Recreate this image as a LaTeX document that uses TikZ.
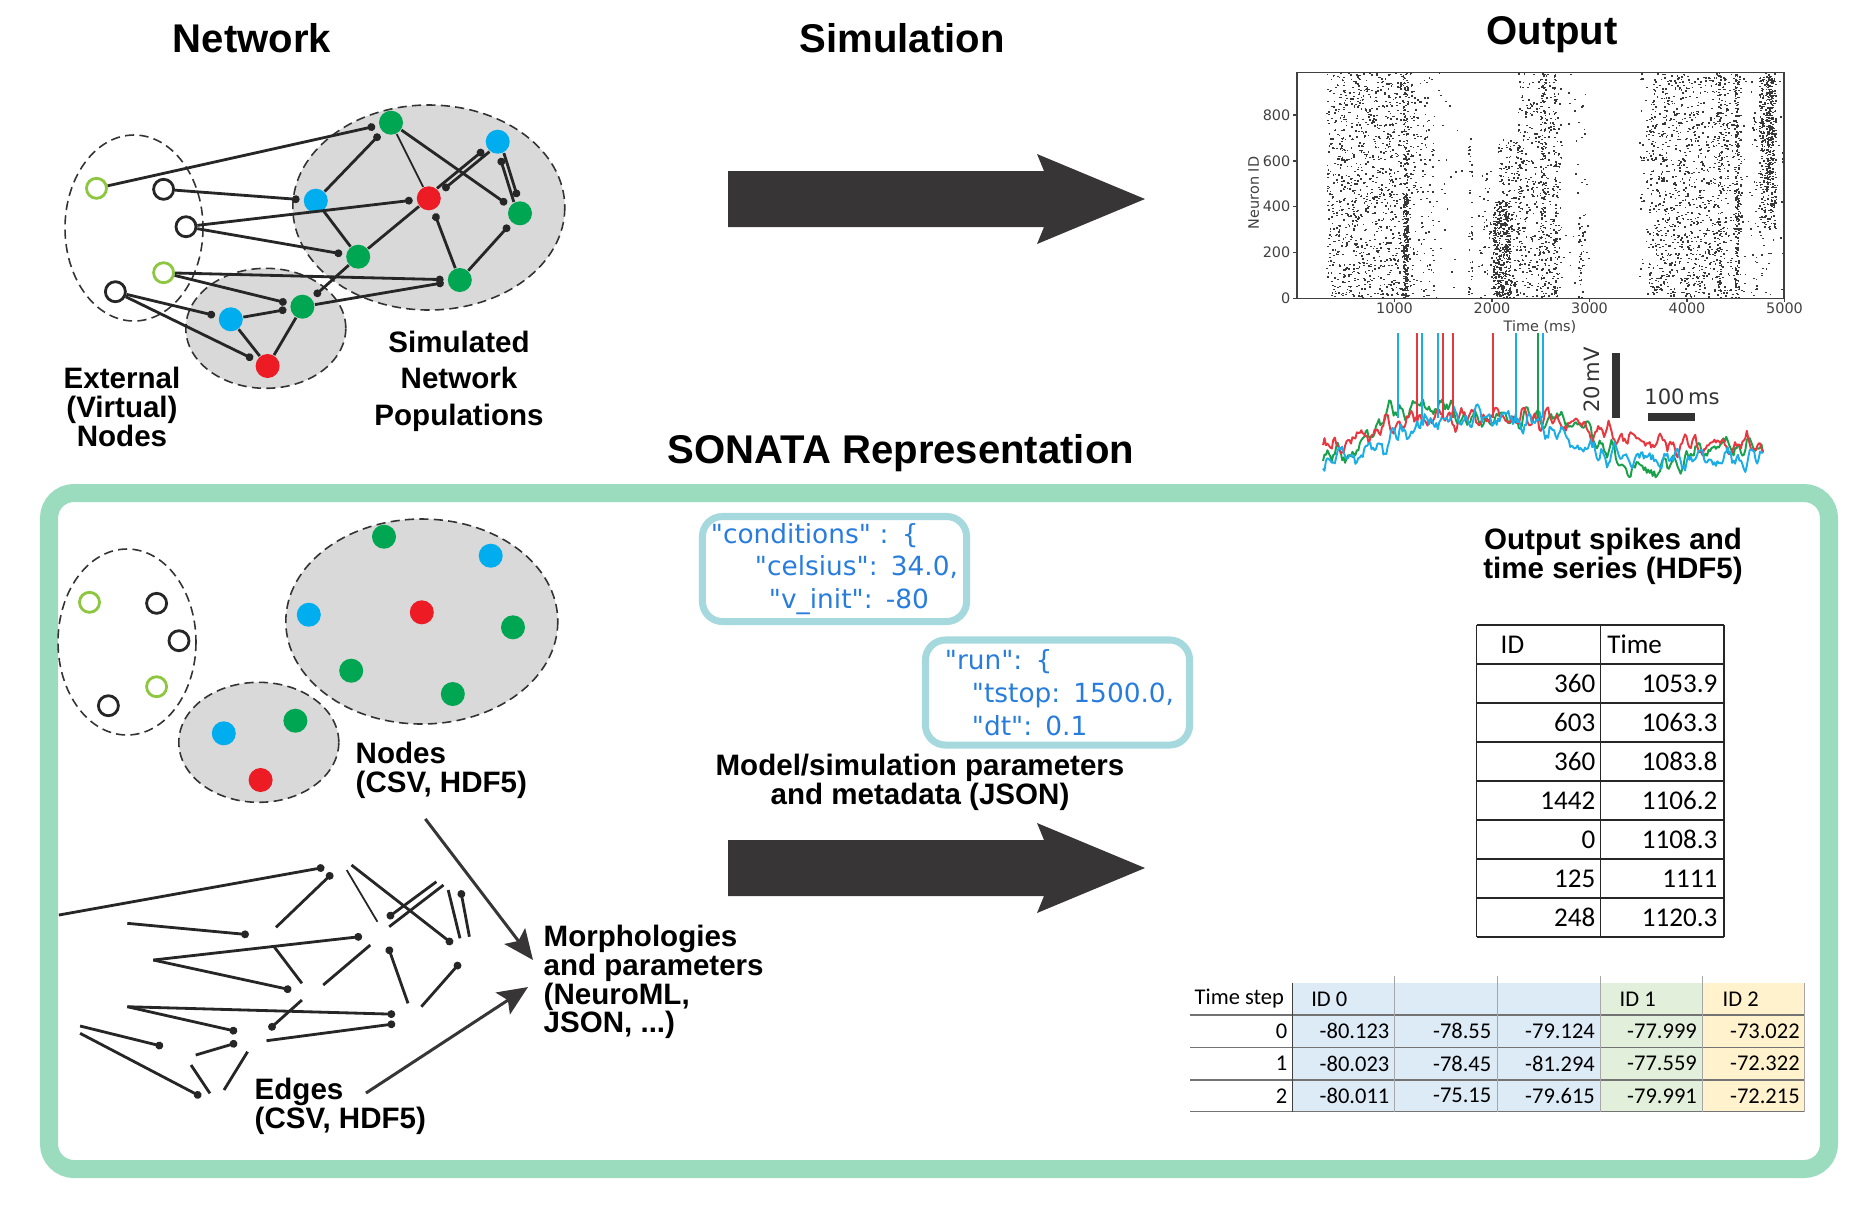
\documentclass[tikz,border=0pt]{standalone}
\usepackage{fontspec}
\setmainfont{Liberation Sans}
\newfontfamily\jsonfont{DejaVu Sans}
\newfontfamily\plotfont{DejaVu Sans}
\newfontfamily\cellfont{Carlito}
\usepackage{xcolor}
\usepackage{tikz}
\usetikzlibrary{positioning,arrows,arrows.meta}

\definecolor{popgreen}{RGB}{0,166,81}
\definecolor{popblue}{RGB}{0,174,239}
\definecolor{popred}{RGB}{237,28,36}
\definecolor{virtgreen}{RGB}{141,198,63}
\definecolor{popgrey}{RGB}{217,217,217}
\definecolor{boxgreen}{RGB}{155,220,191}
\definecolor{jsonframe}{RGB}{165,217,222}
\definecolor{jsontext}{RGB}{40,125,220}
\definecolor{arrowgrey}{RGB}{56,53,54}
\definecolor{cellblue}{RGB}{221,235,247}
\definecolor{cellgreen}{RGB}{226,239,218}
\definecolor{cellyellow}{RGB}{255,242,204}
\definecolor{trred}{RGB}{231,56,63}
\definecolor{trgreen}{RGB}{25,160,75}
\definecolor{trblue}{RGB}{27,174,230}

\newcommand\titlefont{\fontsize{11.4}{13}\selectfont\bfseries}
\newcommand\lblfont{\fontsize{8.4}{8.2}\selectfont\bfseries}

% populations, drawn on top and again inside the SONATA box
\newcommand\populations{%
  \draw[popedge] (428.8,207.5) ellipse (136 and 102.5);
  \draw[popedge] (265.8,328.3) ellipse (80 and 60);
  \draw[virtedge] (134,228) ellipse (69 and 93);
  \node[virt,draw=virtgreen] (E1) at (96.5,188.3) {};
  \node[virt] (E2) at (163.6,189.3) {};
  \node[virt] (E3) at (186,226.7) {};
  \node[virt,draw=virtgreen] (E4) at (163.6,272.7) {};
  \node[virt] (E5) at (115.4,291.7) {};
  \node[pop,fill=popgreen] (G1) at (391,122.7) {};
  \node[pop,fill=popblue] (B1) at (497.7,141.7) {};
  \node[pop,fill=popblue] (B2) at (315.8,200.7) {};
  \node[pop,fill=popred] (R1) at (428.8,198.3) {};
  \node[pop,fill=popgreen] (G2) at (520,213.3) {};
  \node[pop,fill=popgreen] (G3) at (358.2,256.7) {};
  \node[pop,fill=popgreen] (G4) at (459.8,280) {};
  \node[pop,fill=popgreen] (G5) at (302.4,306.7) {};
  \node[pop,fill=popblue] (B3) at (230.8,319.3) {};
  \node[pop,fill=popred] (R2) at (267.6,366) {};
}

% random spikes: t0 t1 id0 id1 count
\newcommand\band[5]{%
  \foreach \k in {1,...,#5}
    \fill[black!78] ({#1+rnd*(#2-#1)},{#3+rnd*(#4-#3)}) rectangle ++(18,6);}

\begin{document}
\begin{tikzpicture}[x=0.01cm,y=-0.01cm,
    declare function={bump(\x,\a,\b,\w)=1/(1+exp(max(-9,min(9,(\a-\x)/\w))))-1/(1+exp(max(-9,min(9,(\b-\x)/\w))));
      jit(\x,\p)=3.5*rand+5*sin(13*(\x-1320)+\p)+4*sin(29*(\x-1320)+\p)+3*sin(34*(\x-1320)+\p);},
    pop/.style={circle,inner sep=0,minimum size=0.24cm},
    virt/.style={circle,inner sep=0,minimum size=0.2cm,draw=black!85,line width=0.8pt,fill=white},
    popedge/.style={draw=black!80,fill=popgrey,dash pattern=on 2.6pt off 1.5pt,line width=0.45pt},
    virtedge/.style={draw=black!80,dash pattern=on 2.6pt off 1.5pt,line width=0.45pt},
    syn/.style={draw=black!85,line width=0.8pt,-{Circle[length=2.2pt]},shorten >=1pt},
    wire/.style={draw=black!85,line width=0.8pt},
    title/.style={font=\titlefont,inner sep=0,anchor=base},
    lbl/.style={font=\lblfont,align=center,inner sep=0},
    sonata/.style={draw=boxgreen,line width=0.18cm,rounded corners=0.25cm},
    bigarr/.style={draw=arrowgrey,line width=0.85pt,-{Stealth[length=0.3cm,width=0.26cm,inset=0.06cm]}},
    json/.style={draw=jsonframe,line width=2pt,rounded corners=0.2cm,text=jsontext,
      font=\jsonfont\fontsize{7.5}{9.3}\selectfont,align=left,inner xsep=0.085cm,inner ysep=0,
      minimum height=1.05cm,text width=2.47cm},
    axis/.style={draw=black!75,line width=0.4pt},
    tick/.style={font=\plotfont\fontsize{4.1}{5}\selectfont,text=black!75,inner sep=0},
    trace/.style={line width=0.55pt,line join=round},
    scalebar/.style={draw=black!80,line width=2.3pt},
    barlbl/.style={font=\plotfont\fontsize{6}{7}\selectfont,text=black!80,inner sep=0},
    cell/.style={font=\cellfont\fontsize{7.7}{9}\selectfont,inner sep=0},
    vcell/.style={font=\cellfont\fontsize{6.4}{8}\selectfont,inner sep=0},
    grid/.style={draw=black!85,line width=0.35pt}]
  \useasboundingbox (0,0) rectangle (1873,1211);

  % headings
  \node[title] (NetT) at (252,52.3) {Network};
  \node[title] (SimT) at (902,52.3) {Simulation};
  \node[title] (OutT) at (1552,44.3) {Output};
  \node[title] (SonT) at (901,463.3) {SONATA Representation};

  % network
  \begin{scope}[name prefix=t]
    \populations
  \end{scope}
  \draw[syn] (tE1) -- (tG1);
  \draw[syn] (tE2) -- (tB2);
  \draw[syn] (tE3) -- (tR1);
  \draw[syn] (tE3) -- (tG3);
  \draw[syn] (tE4) -- (tG4);
  \draw[syn] (tE4) -- (tG5);
  \draw[syn] (tE5) -- (tB3);
  \draw[syn] (tE5) -- (tR2);
  \draw[syn] (tB2) -- (tG1);
  \draw[wire,line width=0.5pt] (tG1) -- (tR1);
  \draw[syn] (tG1) -- (tG2);
  \draw[syn,transform canvas={shift={(1.6,1.9)}}] (tB1) -- (tR1);
  \draw[syn,transform canvas={shift={(-1.6,-1.9)}}] (tR1) -- (tB1);
  \draw[syn,transform canvas={shift={(2.4,-0.74)}}] (tB1) -- (tG2);
  \draw[syn,transform canvas={shift={(-2.4,0.74)}}] (tG2) -- (tB1);
  \draw[wire] (tB2) -- (tG3);
  \draw[wire] (tG3) -- (tR1);
  \draw[syn] (tG4) -- (tR1);
  \draw[syn] (tG4) -- (tG2);
  \draw[syn] (tG3) -- (tG5);
  \draw[syn] (tG5) -- (tG4);
  \draw[syn] (tB3) -- (tG5);
  \draw[wire] (tB3) -- (tR2);
  \draw[wire] (tG5) -- (tR2);
  \node[lbl] (ExtLbl) at (122,406.7) {External\\(Virtual)\\Nodes};
  \node[lbl,font={\fontsize{8.4}{10.3}\selectfont\bfseries}] (SimLbl) at (459,381.3) {Simulated\\Network\\Populations};

  % simulation arrows
  \foreach \dy in {0,669}
    \fill[arrowgrey,shift={(0,\dy)}] (728,171) -- (1044,171) -- (1037,154) -- (1145,199)
      -- (1037,244) -- (1044,227) -- (728,227) -- cycle;

  % raster plot
  \pgfmathsetseed{7}
  \begin{scope}[shift={(1297,298.3)},x=0.000975cm,y=0.00229cm]
    \band{300}{1200}{0}{980}{1100}
    \band{1080}{1130}{0}{450}{220}
    \band{1080}{1130}{450}{980}{60}
    \band{1200}{1400}{0}{980}{110}
    \band{1400}{1700}{0}{980}{25}
    \band{1750}{1790}{0}{700}{40}
    \band{1850}{2000}{0}{550}{45}
    \band{2000}{2180}{0}{420}{450}
    \band{2050}{2300}{420}{700}{90}
    \band{2180}{2300}{0}{420}{60}
    \band{2250}{2700}{0}{980}{420}
    \band{2490}{2540}{0}{980}{110}
    \band{2620}{2660}{0}{980}{60}
    \band{2700}{3000}{0}{980}{40}
    \band{2880}{2920}{0}{350}{30}
    \band{3500}{3600}{0}{980}{45}
    \band{3600}{4550}{0}{980}{1150}
    \band{4300}{4340}{0}{980}{110}
    \band{4480}{4520}{0}{980}{150}
    \band{4550}{4750}{0}{980}{45}
    \band{4730}{4900}{300}{980}{350}
    \band{4800}{4870}{450}{980}{150}
    \band{4650}{4980}{0}{980}{60}
  \end{scope}
  \draw[axis] (1297,72.7) rectangle (1784,298.3);
  \foreach \t [count=\k] in {1000,2000,3000,4000,5000} {
    \draw[axis] ({1297+0.0975*\t},298.3) -- ++(0,4);
    \node[tick] (Xt\k) at ({1297+0.0975*\t},308.3) {\t};
  }
  \foreach \n [count=\k] in {0,200,400,600,800} {
    \draw[axis] (1297,{298.3-0.229*\n}) -- ++(-4,0);
    \node[tick,anchor=east] (Yt\k) at (1291,{298.3-0.229*\n}) {\n};
  }
  \node[tick,rotate=90] (YLbl) at (1253.7,193) {Neuron ID};
  \node[tick] (XLbl) at (1540,326.7) {Time (ms)};

  % voltage traces
  \draw[trace,trgreen] plot[domain=1323:1763,samples=300] (\x,{456-48*bump(\x,1372,1455,8)-38*bump(\x,1455,1600,12)+18*bump(\x,1612,1680,12)-12*bump(\x,1690,1763,15)+jit(\x,70)});
  \draw[trace,trred] plot[domain=1323:1763,samples=300] (\x,{453-36*bump(\x,1365,1600,20)-8*bump(\x,1600,1800,10)+jit(\x,150)});
  \draw[trace,trblue] plot[domain=1323:1763,samples=300] (\x,{459-42*bump(\x,1395,1565,18)+jit(\x,0)+2*rand});
  \foreach \sx/\sc in {1417/trred,1443/trred,1453/trred,1493/trred,1538/trgreen,1398/trblue,1422/trblue,1438/trblue,1516/trblue,1543/trblue}
    \draw[trace,\sc] (\sx,418) -- (\sx,333);
  \draw[scalebar] (1616,353) -- (1616,418);
  \draw[scalebar] (1648,417) -- (1695,417);
  \node[barlbl,rotate=90] (MvLbl) at (1592,380) {20\,mV};
  \node[barlbl] (MsLbl) at (1682,397) {100\,ms};

  % SONATA box
  \draw[sonata] (49,493) rectangle (1829,1169);
  \begin{scope}[shift={(-7,414)},name prefix=s]
    \populations
  \end{scope}
  \node[lbl,align=left,anchor=west] (NodesLbl) at (355,770) {Nodes\\(CSV, HDF5)};

  % edges alone
  \begin{scope}[line width=0.9pt]
    \draw[syn] (58.9,915) -- (327.9,866.7);
    \draw[syn] (127.3,923.3) -- (252.4,935);
    \draw[syn] (276,927.3) -- (335,870.7);
    \draw[wire,line width=0.5pt] (346.7,870) -- (377.4,921.7);
    \draw[syn] (351.5,865) -- (455.3,946);
    \draw[syn] (436.4,881.7) -- (384.5,920);
    \draw[wire] (389.2,926.7) -- (443.5,885);
    \draw[wire] (448.2,890) -- (460,938.3);
    \draw[syn] (469.4,936.7) -- (460,886.7);
    \draw[syn] (153.3,960) -- (365.6,936);
    \draw[syn] (153.3,960) -- (294.8,990.7);
    \draw[wire] (273.6,946) -- (301.9,983.3);
    \draw[wire] (323.2,985) -- (370.3,945);
    \draw[syn] (408,1003.3) -- (386.9,943.3);
    \draw[syn] (421.3,1006.7) -- (462.4,960);
    \draw[syn] (127.3,1006.7) -- (398.7,1014.3);
    \draw[syn] (127.3,1006.7) -- (240.6,1032.3);
    \draw[syn] (301.9,1000) -- (266.5,1031.7);
    \draw[syn] (266.5,1040.7) -- (398.7,1023.3);
    \draw[syn] (80.1,1026) -- (166.5,1047.3);
    \draw[syn] (80.1,1033.3) -- (204.2,1098.3);
    \draw[syn] (195.7,1055) -- (240.6,1041.7);
    \draw[wire] (191,1065) -- (209.9,1093.3);
    \draw[wire] (247.6,1051.7) -- (224,1090);
  \end{scope}
  \node[lbl,align=left,anchor=west] (EdgesLbl) at (254,1106) {Edges\\(CSV, HDF5)};
  \node[lbl,align=left,anchor=west] (Morph) at (543,982) {Morphologies\\and parameters\\(NeuroML,\\JSON, ...)};
  \coordinate (MorphIn1) at (533,960);
  \coordinate (MorphIn2) at (528,987);
  \coordinate (EdgesOut) at (366,1093);
  \draw[bigarr] ([xshift=-0.16cm,yshift=-0.2cm]NodesLbl.south) -- (MorphIn1);
  \draw[bigarr] (EdgesOut) -- (MorphIn2);

  % json parameters
  \node[json] (Cond) at (834.5,569) {"conditions" : \{\\\hspace*{0.44cm}"celsius": 34.0,\\\hspace*{0.58cm}"v\_init": -80};
  \node[json] (Run) at (1057.5,692.5) {\hspace*{0.11cm}"run": \{\\\hspace*{0.38cm}"tstop: 1500.0,\\\hspace*{0.38cm}"dt": 0.1};
  \node[lbl] (ParLbl) at (920,782) {Model/simulation parameters\\and metadata (JSON)};

  % output spikes table
  \node[lbl] (SpkLbl) at (1613,556.5) {Output spikes and\\time series (HDF5)};
  \foreach \y in {625,664,...,937}
    \draw[grid] (1476.7,\y) -- (1724,\y);
  \foreach \x in {1476.7,1600.7,1724}
    \draw[grid] (\x,625) -- (\x,937);
  \node[cell,anchor=west] (SpHeadId) at (1500,644.5) {ID};
  \node[cell,anchor=west] (SpHeadT) at (1606.7,644.5) {Time};
  \foreach \id/\tm [count=\k] in {360/1053.9,603/1063.3,360/1083.8,1442/1106.2,0/1108.3,125/1111,248/1120.3} {
    \node[cell,anchor=east] (SpId\k) at (1596,{644.5+39*\k}) {\id};
    \node[cell,anchor=east] (SpT\k) at (1718,{644.5+39*\k}) {\tm};
  }

  % voltage table
  \fill[cellblue] (1292.2,982.7) rectangle (1600.4,1111.7);
  \fill[cellgreen] (1600.4,982.7) rectangle (1702.4,1111.7);
  \fill[cellyellow] (1702.4,982.7) rectangle (1804.5,1111.7);
  \foreach \y in {1015,1047.3,1080,1111.7}
    \draw[draw=black!55,line width=0.35pt] (1190.2,\y) -- (1804.5,\y);
  \foreach \x in {1394.3,1497.6,1600.4,1702.4}
    \draw[draw=black!35,line width=0.3pt] (\x,976) -- (\x,1111.7);
  \draw[draw=black!35,line width=0.3pt] (1804.5,982.7) -- (1804.5,1111.7);
  \draw[draw=black!75,line width=0.35pt] (1292.2,982.7) -- (1292.2,1111.7);
  \node[vcell,anchor=west] (VHts) at (1194,998.9) {Time step};
  \node[vcell,anchor=west] (VH0) at (1310.6,998.9) {ID 0};
  \node[vcell,anchor=west] (VH1) at (1619,998.9) {ID 1};
  \node[vcell,anchor=west] (VH2) at (1722,998.9) {ID 2};
  \foreach \ts/\va/\vb/\vc/\vd/\ve [count=\k] in {0/-80.123/-78.55/-79.124/-77.999/-73.022,1/-80.023/-78.45/-81.294/-77.559/-72.322,2/-80.011/-75.15/-79.615/-79.991/-72.215} {
    \node[vcell,anchor=east] (Ts\k) at (1288,{998.9+32.3*\k}) {\ts};
    \node[vcell,anchor=east] (Va\k) at (1390,{998.9+32.3*\k}) {\va};
    \node[vcell,anchor=east] (Vb\k) at (1492,{998.9+32.3*\k}) {\vb};
    \node[vcell,anchor=east] (Vc\k) at (1595.5,{998.9+32.3*\k}) {\vc};
    \node[vcell,anchor=east] (Vd\k) at (1697.5,{998.9+32.3*\k}) {\vd};
    \node[vcell,anchor=east] (Ve\k) at (1800.4,{998.9+32.3*\k}) {\ve};
  }
\end{tikzpicture}
\end{document}
